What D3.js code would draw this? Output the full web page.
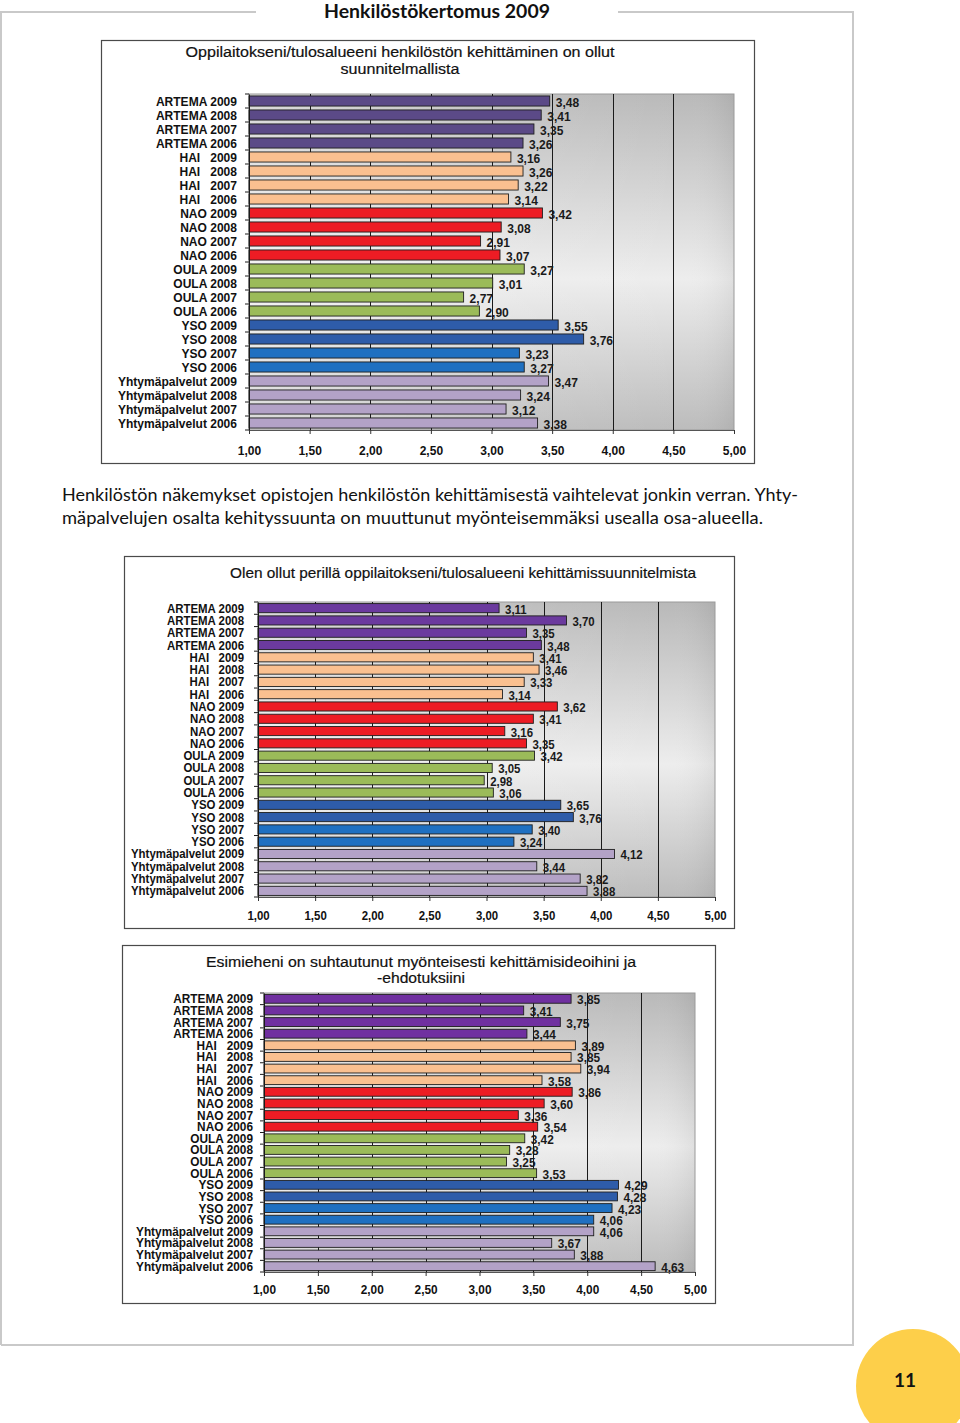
<!DOCTYPE html>
<html><head><meta charset="utf-8">
<script src="https://cdn.jsdelivr.net/npm/d3@7/dist/d3.min.js"></script>
<style>body{margin:0;background:#fff}svg{display:block}</style>
</head><body>
<script>
// ---- data ----
const categories = [
  "ARTEMA 2009","ARTEMA 2008","ARTEMA 2007","ARTEMA 2006",
  "HAI   2009","HAI   2008","HAI   2007","HAI   2006",
  "NAO 2009","NAO 2008","NAO 2007","NAO 2006",
  "OULA 2009","OULA 2008","OULA 2007","OULA 2006",
  "YSO 2009","YSO 2008","YSO 2007","YSO 2006",
  "Yhtymäpalvelut 2009","Yhtymäpalvelut 2008","Yhtymäpalvelut 2007","Yhtymäpalvelut 2006"
];
const chart1Values = [3.48,3.41,3.35,3.26, 3.16,3.26,3.22,3.14, 3.42,3.08,2.91,3.07, 3.27,3.01,2.77,2.90, 3.55,3.76,3.23,3.27, 3.47,3.24,3.12,3.38];
const chart2Values = [3.11,3.70,3.35,3.48, 3.41,3.46,3.33,3.14, 3.62,3.41,3.16,3.35, 3.42,3.05,2.98,3.06, 3.65,3.76,3.40,3.24, 4.12,3.44,3.82,3.88];
const chart3Values = [3.85,3.41,3.75,3.44, 3.89,3.85,3.94,3.58, 3.86,3.60,3.36,3.54, 3.42,3.28,3.25,3.53, 4.29,4.28,4.23,4.06, 4.06,3.67,3.88,4.63];
const xTicks = [1,1.5,2,2.5,3,3.5,4,4.5,5];
const chart1Title = ["Oppilaitokseni/tulosalueeni henkilöstön kehittäminen on ollut","suunnitelmallista"];
const chart2Title = ["Olen ollut perillä oppilaitokseni/tulosalueeni kehittämissuunnitelmista"];
const chart3Title = ["Esimieheni on suhtautunut myönteisesti kehittämisideoihini ja","-ehdotuksiini"];
const pageTitle = "Henkilöstökertomus 2009";
const paragraphLines = [
  "Henkilöstön näkemykset opistojen henkilöstön kehittämisestä vaihtelevat jonkin verran. Yhty-",
  "mäpalvelujen osalta kehityssuunta on muuttunut myönteisemmäksi usealla osa-alueella."
];
const pageNumber = "11";

// ---- styling ----
const narrow = "'Liberation Sans Narrow','Arial Narrow','Liberation Sans',Arial,sans-serif";
const sans = "'Liberation Sans',Arial,sans-serif";
const baseColors = {HAI:"#fac090", NAO:"#ed1c24", OULA:"#9bbb59", YSOa:"#2e5ca9", YSOb:"#1f70c1", Yht:"#b3a2c7"};
function colorFor(cat, artemaColor){
  if (cat.startsWith("ARTEMA")) return artemaColor;
  if (cat.startsWith("HAI")) return baseColors.HAI;
  if (cat.startsWith("NAO")) return baseColors.NAO;
  if (cat.startsWith("OULA")) return baseColors.OULA;
  if (cat.startsWith("YSO")) return (cat.endsWith("2009")||cat.endsWith("2008")) ? baseColors.YSOa : baseColors.YSOb;
  return baseColors.Yht;
}
const fmt = v => d3.format(".2f")(v).replace(".", ",");

const charts = [
  {values: chart1Values, title: chart1Title, artema:"#5b4a87",
   box:[101,40,653,423], titleX:400, titleY:[57,74], titleW:[429,119], titleFs:15.5,
   x0:249, x1:734, top:94, bottom:430, labelX:237, labelW:119, tickY:453, fs:13.5, barPad:0.28},
  {values: chart2Values, title: chart2Title, artema:"#6b3a9e",
   box:[124,556,610,372], titleX:463, titleY:[578], titleW:[466], titleFs:15,
   x0:258, x1:715, top:602, bottom:897, labelX:244, labelW:113, tickY:919, fs:12.5, barPad:0.26},
  {values: chart3Values, title: chart3Title, artema:"#7030a0",
   box:[122,945,593,358], titleX:421, titleY:[967,983], titleW:[430,88], titleFs:15.5,
   x0:264, x1:695, top:993, bottom:1272, labelX:253, labelW:117, tickY:1293, fs:12.5, barPad:0.24}
];

const W = 960, H = 1423;
const svg = d3.select("body").append("svg").attr("width", W).attr("height", H);
svg.append("rect").attr("width", W).attr("height", H).attr("fill", "#fff");

const defs = svg.append("defs");
const g1 = defs.append("linearGradient").attr("id","plotbg").attr("x1",0).attr("y1",0).attr("x2",0).attr("y2",1);
[[0,"#b9b9b9"],[0.55,"#ededed"],[1,"#bcbcbc"]].forEach(([o,c]) => g1.append("stop").attr("offset",o).attr("stop-color",c));
const g2 = defs.append("linearGradient").attr("id","plotbgh").attr("x1",0).attr("y1",0).attr("x2",1).attr("y2",0);
[[0,"#ffffff",0.45],[0.6,"#ffffff",0.08],[0.9,"#ffffff",0],[1,"#000000",0.06]].forEach(([o,c,a]) => g2.append("stop").attr("offset",o).attr("stop-color",c).attr("stop-opacity",a));

function compress(sel, k){
  sel.each(function(){
    const L = this.getComputedTextLength();
    d3.select(this).attr("textLength", L*k).attr("lengthAdjust","spacingAndGlyphs");
  });
}

// ---- page frame ----
const frame = svg.append("g").attr("stroke","#c9c9c9").attr("stroke-width",2).attr("fill","none");
frame.append("path").attr("d","M1,1345 V12 H256");
frame.append("path").attr("d","M618,12 H853 V1345 H1");
svg.append("text").attr("x",437).attr("y",18).attr("text-anchor","middle")
  .attr("font-family","Lato,'Open Sans',sans-serif").attr("font-weight","bold").attr("font-size",19)
  .attr("textLength",226).attr("lengthAdjust","spacingAndGlyphs").attr("fill","#111").text(pageTitle);

// paragraph
svg.append("g").selectAll("text").data(paragraphLines).join("text")
  .attr("x",62).attr("y",(d,i)=>501+i*22.5)
  .attr("font-family","Lato,'Open Sans',sans-serif").attr("font-size",17).attr("fill","#111")
  .attr("textLength",(d,i)=> i===0 ? 736 : 701).attr("lengthAdjust","spacingAndGlyphs")
  .text(d=>d);

// page number circle
svg.append("circle").attr("cx",913).attr("cy",1386).attr("r",57).attr("fill","#fdcf4a");
svg.append("text").attr("x",905).attr("y",1387).attr("text-anchor","middle")
  .attr("font-family","Lato,'Open Sans',sans-serif").attr("font-weight","bold").attr("font-size",19).attr("fill","#111")
  .text(pageNumber);

// ---- charts ----
charts.forEach(c => {
  const g = svg.append("g");
  const [bx,by,bw,bh] = c.box;
  g.append("rect").attr("x",bx+0.5).attr("y",by+0.5).attr("width",bw).attr("height",bh)
    .attr("fill","#fff").attr("stroke","#4a4a4a").attr("stroke-width",1.2);

  g.selectAll("text.title").data(c.title).join("text").attr("class","title")
    .attr("x",c.titleX).attr("y",(d,i)=>c.titleY[i]).attr("text-anchor","middle")
    .attr("font-family",sans).attr("font-size",c.titleFs).attr("fill","#111")
    .attr("stroke","#111").attr("stroke-width",0.2)
    .attr("textLength",(d,i)=>c.titleW[i]).attr("lengthAdjust","spacingAndGlyphs").text(d=>d);

  const x = d3.scaleLinear().domain([1,5]).range([c.x0,c.x1]);
  const y = d3.scaleBand().domain(categories).range([c.top,c.bottom]).paddingInner(c.barPad).paddingOuter(c.barPad/2);

  // plot background
  g.append("rect").attr("x",c.x0).attr("y",c.top).attr("width",c.x1-c.x0).attr("height",c.bottom-c.top).attr("fill","url(#plotbg)");
  g.append("rect").attr("x",c.x0).attr("y",c.top).attr("width",c.x1-c.x0).attr("height",c.bottom-c.top).attr("fill","url(#plotbgh)")
    .attr("stroke","#9a9a9a").attr("stroke-width",1);

  // gridlines
  g.append("g").selectAll("line").data(xTicks.filter(t=>t>1 && t<5)).join("line")
    .attr("x1",d=>Math.round(x(d))+0.5).attr("x2",d=>Math.round(x(d))+0.5)
    .attr("y1",c.top).attr("y2",c.bottom).attr("stroke","#1a1a1a").attr("stroke-width",1);

  // bars
  const data = categories.map((cat,i)=>({cat, v:c.values[i]}));
  g.append("g").selectAll("rect").data(data).join("rect")
    .attr("x",x(1)).attr("y",d=>y(d.cat)).attr("width",d=>x(d.v)-x(1)).attr("height",y.bandwidth())
    .attr("fill",d=>colorFor(d.cat,c.artema)).attr("stroke","#1e1e1e").attr("stroke-width",0.9);

  // y axis
  const ya = d3.axisLeft(y).tickSize(0).tickPadding(c.x0-c.labelX);
  const yg = g.append("g").attr("transform",`translate(${c.x0},0)`).call(ya);
  yg.select(".domain").attr("stroke","#1a1a1a");
  const ylab = yg.selectAll("text").attr("font-family",narrow).attr("font-weight","bold").attr("font-size",c.fs)
    .attr("fill","#111").style("white-space","pre").attr("xml:space","preserve").attr("dy","0.36em");
  let Lmax = 0;
  ylab.each(function(d){ if (d==="Yhtymäpalvelut 2009") Lmax = this.getComputedTextLength(); });
  const k = Lmax ? c.labelW / Lmax : 1;
  compress(ylab, k);

  // value labels
  const vl = g.append("g").selectAll("text").data(data).join("text")
    .attr("x",d=>x(d.v)+6).attr("y",d=>y(d.cat)+y.bandwidth()/2+1).attr("dy","0.36em")
    .attr("font-family",narrow).attr("font-weight","bold").attr("font-size",c.fs).attr("fill","#1a1a1a")
    .text(d=>fmt(d.v));
  compress(vl, k);

  // category boundary ticks
  const step = y.step();
  g.append("g").selectAll("line").data(d3.range(categories.length+1)).join("line")
    .attr("x1",c.x0-4).attr("x2",c.x0).attr("y1",i=>c.top+i*step).attr("y2",i=>c.top+i*step)
    .attr("stroke","#1a1a1a");

  // x axis
  const xa = d3.axisBottom(x).tickValues(xTicks).tickSize(4).tickPadding(c.tickY-c.bottom-12).tickFormat(fmt);
  const xg = g.append("g").attr("transform",`translate(0,${c.bottom})`).call(xa);
  xg.select(".domain").attr("stroke","#555");
  xg.selectAll(".tick line").attr("stroke","#333");
  const xl = xg.selectAll("text").attr("font-family",narrow).attr("font-weight","bold").attr("font-size",c.fs).attr("fill","#111");
  compress(xl, k);
});
</script>
</body></html>
